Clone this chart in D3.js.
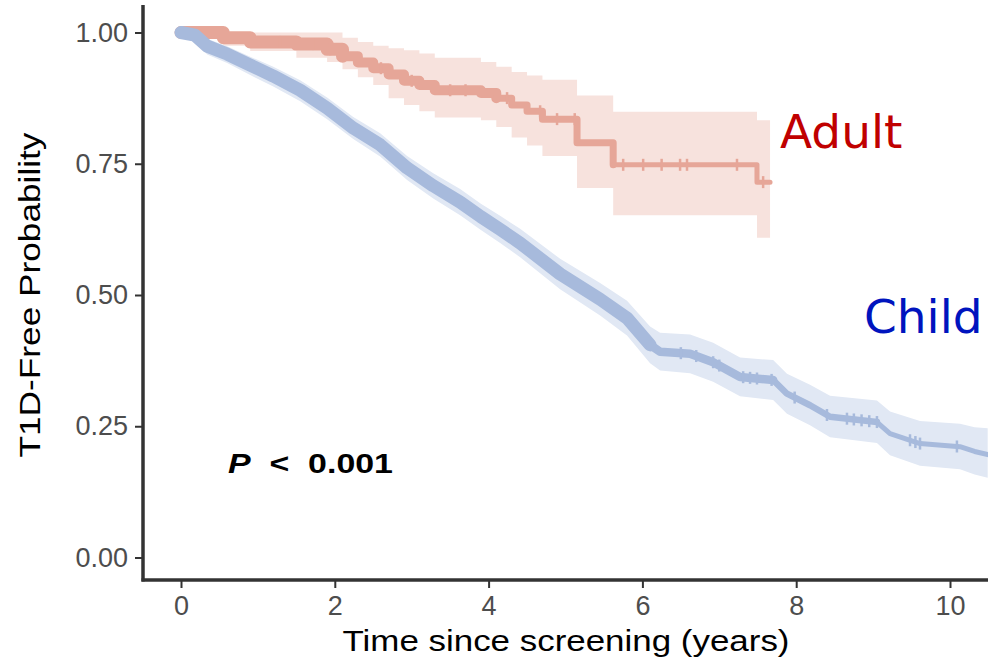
<!DOCTYPE html>
<html>
<head>
<meta charset="utf-8">
<script src="https://cdn.jsdelivr.net/npm/d3@7/dist/d3.min.js"></script>
<style>
  body { margin: 0; background: #ffffff; }
  svg { display: block; }
</style>
</head>
<body>
<div id="chart"></div>
<script>
// Kaplan-Meier estimates (time in years, survival, 95% CI)
var childTime  = [0, 0.18, 0.34, 0.6, 0.9, 1.2, 1.55, 1.9, 2.24, 2.59, 2.94, 3.28, 3.63, 3.9, 4.15, 4.41, 4.93, 5.45, 5.8, 6.1, 6.23, 6.62, 6.92, 7.27, 7.7, 7.88, 8.18, 8.44, 9.05, 9.22, 9.61, 10.13, 10.32, 10.49];
var childSurv  = [1.0, 0.995, 0.974, 0.959, 0.938, 0.917, 0.89, 0.856, 0.818, 0.786, 0.742, 0.708, 0.677, 0.649, 0.625, 0.599, 0.54, 0.492, 0.456, 0.405, 0.392, 0.388, 0.372, 0.344, 0.338, 0.312, 0.29, 0.268, 0.258, 0.236, 0.217, 0.211, 0.202, 0.196];
var childLower = [1.0, 0.982, 0.958, 0.942, 0.919, 0.897, 0.869, 0.835, 0.797, 0.764, 0.719, 0.684, 0.652, 0.624, 0.599, 0.572, 0.511, 0.461, 0.423, 0.370, 0.356, 0.351, 0.335, 0.307, 0.300, 0.274, 0.252, 0.229, 0.218, 0.195, 0.175, 0.168, 0.158, 0.152];
var childUpper = [1.0, 1.0, 0.988, 0.974, 0.954, 0.935, 0.909, 0.876, 0.839, 0.808, 0.765, 0.732, 0.702, 0.674, 0.651, 0.626, 0.569, 0.523, 0.489, 0.440, 0.428, 0.425, 0.409, 0.381, 0.376, 0.350, 0.329, 0.308, 0.299, 0.278, 0.260, 0.255, 0.248, 0.246];
var childCensor = [6.5, 6.7, 6.92, 7.0, 7.31, 7.4, 7.49, 7.68, 7.98, 8.4, 8.66, 8.75, 8.85, 8.95, 9.05, 9.48, 9.55, 9.61, 10.09];

var adultTime  = [0, 0.55, 0.9, 1.5, 1.9, 2.1, 2.3, 2.5, 2.7, 2.9, 3.1, 3.3, 3.9, 4.1, 4.3, 4.5, 4.7, 5.15, 5.62, 7.49, 7.66];
var adultSurv  = [1.0, 0.99, 0.982, 0.978, 0.968, 0.955, 0.943, 0.932, 0.92, 0.908, 0.9, 0.89, 0.885, 0.875, 0.862, 0.85, 0.835, 0.79, 0.748, 0.715, 0.715];
var adultLower = [0.99, 0.975, 0.965, 0.952, 0.944, 0.93, 0.915, 0.9, 0.875, 0.862, 0.85, 0.838, 0.833, 0.82, 0.8, 0.785, 0.765, 0.704, 0.652, 0.609, 0.609];
var adultUpper = [1.0, 1.0, 1.0, 1.0, 1.0, 0.99, 0.982, 0.975, 0.97, 0.966, 0.96, 0.952, 0.944, 0.935, 0.925, 0.918, 0.91, 0.88, 0.849, 0.833, 0.833];
var adultCensor = [0.9, 1.29, 1.72, 1.94, 2.6, 3.0, 3.5, 3.7, 4.24, 4.67, 4.89, 5.12, 5.75, 6.01, 6.25, 6.49, 6.58, 7.23, 7.57];

var xTicks = [0, 2, 4, 6, 8, 10];
var yTicks = [0, 0.25, 0.5, 0.75, 1.0];

var svgWidth = 988;
var svgHeight = 661;

// panel edges
var panelLeft = 143;
var panelTop = 5;
var panelBottom = 580;

var svg = d3.select("#chart")
    .append("svg")
    .attr("width", svgWidth)
    .attr("height", svgHeight);

var xScale = d3.scaleLinear()
    .domain([0, 10])
    .range([181, 950]);

var yScale = d3.scaleLinear()
    .domain([0, 1])
    .range([557.5, 32.5]);

function rows(time, surv, lower, upper) {
    return time.map(function(t, i) {
        return { t: t, s: surv[i], lo: lower[i], hi: upper[i] };
    });
}

var child = rows(childTime, childSurv, childLower, childUpper);
var adult = rows(adultTime, adultSurv, adultLower, adultUpper);

// survival at a censor time
function survAt(data, t, step) {
    var i = d3.bisector(function(d) { return d.t; }).right(data, t) - 1;
    i = Math.max(0, Math.min(i, data.length - 1));
    if (step || i == data.length - 1) return data[i].s;
    var a = data[i], b = data[i + 1];
    return a.s + (b.s - a.s) * (t - a.t) / (b.t - a.t);
}

function band(data, curve, color) {
    var area = d3.area()
        .x(function(d) { return xScale(d.t); })
        .y0(function(d) { return yScale(d.lo); })
        .y1(function(d) { return yScale(d.hi); })
        .curve(curve);
    svg.append("path")
        .datum(data)
        .attr("d", area)
        .attr("fill", color);
}

function curveLine(data, curve, color, pieces) {
    var line = d3.line()
        .x(function(d) { return xScale(d.t); })
        .y(function(d) { return yScale(d.s); })
        .curve(curve);
    pieces.forEach(function(p) {
        var seg = data.filter(function(d) { return d.t >= p.from && d.t <= p.to; });
        svg.append("path")
            .datum(seg)
            .attr("d", line)
            .attr("fill", "none")
            .attr("stroke", color)
            .attr("stroke-width", p.width)
            .attr("stroke-linejoin", "round")
            .attr("stroke-linecap", "round");
    });
}

function censorMarks(data, times, step, color) {
    svg.append("g").selectAll("line")
        .data(times)
        .enter()
        .append("line")
        .attr("x1", function(t) { return xScale(t); })
        .attr("x2", function(t) { return xScale(t); })
        .attr("y1", function(t) { return yScale(survAt(data, t, step)) - 6; })
        .attr("y2", function(t) { return yScale(survAt(data, t, step)) + 6; })
        .attr("stroke", color)
        .attr("stroke-width", 2.5);
}

// confidence bands
band(adult, d3.curveStepAfter, "#f7e2dd");
band(child, d3.curveLinear, "#e1e8f4");

// survival curves
curveLine(adult, d3.curveStepAfter, "#e6a698", [
    { from: 0, to: 2.1, width: 13 },
    { from: 2.1, to: 4.1, width: 10 },
    { from: 4.1, to: 5.62, width: 7 },
    { from: 5.62, to: 8, width: 5 }
]);
censorMarks(adult, adultCensor, true, "#e6a698");

curveLine(child, d3.curveLinear, "#a7badc", [
    { from: 0, to: 6.1, width: 13 },
    { from: 6.1, to: 7.7, width: 8.5 },
    { from: 7.7, to: 9.05, width: 6.5 },
    { from: 9.05, to: 11, width: 5 }
]);
censorMarks(child, childCensor, false, "#a7badc");

// axes
var xAxis = d3.axisBottom(xScale).tickValues(xTicks).tickSize(7).tickPadding(8)
    .tickFormat(d3.format("d"));
var yAxis = d3.axisLeft(yScale).tickValues(yTicks).tickSize(7).tickPadding(7)
    .tickFormat(d3.format(".2f"));

var gx = svg.append("g")
    .attr("transform", `translate(0, ${panelBottom + 1})`)
    .call(xAxis);
var gy = svg.append("g")
    .attr("transform", `translate(${panelLeft - 1}, 0)`)
    .call(yAxis);

[gx, gy].forEach(function(g) {
    g.select(".domain").remove();
    g.selectAll(".tick line").attr("stroke", "#333333").attr("stroke-width", 2);
    g.selectAll(".tick text")
        .attr("fill", "#4d4d4d")
        .attr("font-family", "'Liberation Sans', Arial, sans-serif")
        .attr("font-size", "27px");
});

svg.append("line")
    .attr("x1", panelLeft).attr("x2", panelLeft)
    .attr("y1", panelTop).attr("y2", panelBottom + 1.5)
    .attr("stroke", "#333333")
    .attr("stroke-width", 3.5);

svg.append("line")
    .attr("x1", panelLeft - 1.5).attr("x2", svgWidth)
    .attr("y1", panelBottom).attr("y2", panelBottom)
    .attr("stroke", "#333333")
    .attr("stroke-width", 3.5);

// axis titles
svg.append("text")
    .attr("x", 566)
    .attr("y", 651)
    .attr("text-anchor", "middle")
    .attr("font-family", "'Liberation Sans', Arial, sans-serif")
    .attr("font-size", "30px")
    .attr("textLength", 447)
    .attr("lengthAdjust", "spacingAndGlyphs")
    .attr("fill", "black")
    .text("Time since screening (years)");

svg.append("text")
    .attr("transform", "translate(40, 295) rotate(-90)")
    .attr("text-anchor", "middle")
    .attr("font-family", "'Liberation Sans', Arial, sans-serif")
    .attr("font-size", "30px")
    .attr("textLength", 325)
    .attr("lengthAdjust", "spacingAndGlyphs")
    .attr("fill", "black")
    .text("T1D-Free Probability");

// p-value
var pText = svg.append("text")
    .attr("x", 228)
    .attr("y", 473)
    .attr("font-family", "'Liberation Sans', Arial, sans-serif")
    .attr("font-size", "28px")
    .attr("font-weight", "bold")
    .attr("textLength", 165)
    .attr("lengthAdjust", "spacingAndGlyphs")
    .attr("fill", "black")
    .style("white-space", "pre");
pText.append("tspan").attr("font-style", "italic").text("P");
pText.append("tspan").text("  <  0.001");

// group labels
svg.append("text")
    .attr("x", 780)
    .attr("y", 148)
    .attr("font-family", "'DejaVu Sans', sans-serif")
    .attr("font-size", "47px")
    .attr("fill", "#c00000")
    .text("Adult");

svg.append("text")
    .attr("x", 864)
    .attr("y", 333)
    .attr("font-family", "'DejaVu Sans', sans-serif")
    .attr("font-size", "47px")
    .attr("fill", "#0014be")
    .text("Child");
</script>
</body>
</html>
